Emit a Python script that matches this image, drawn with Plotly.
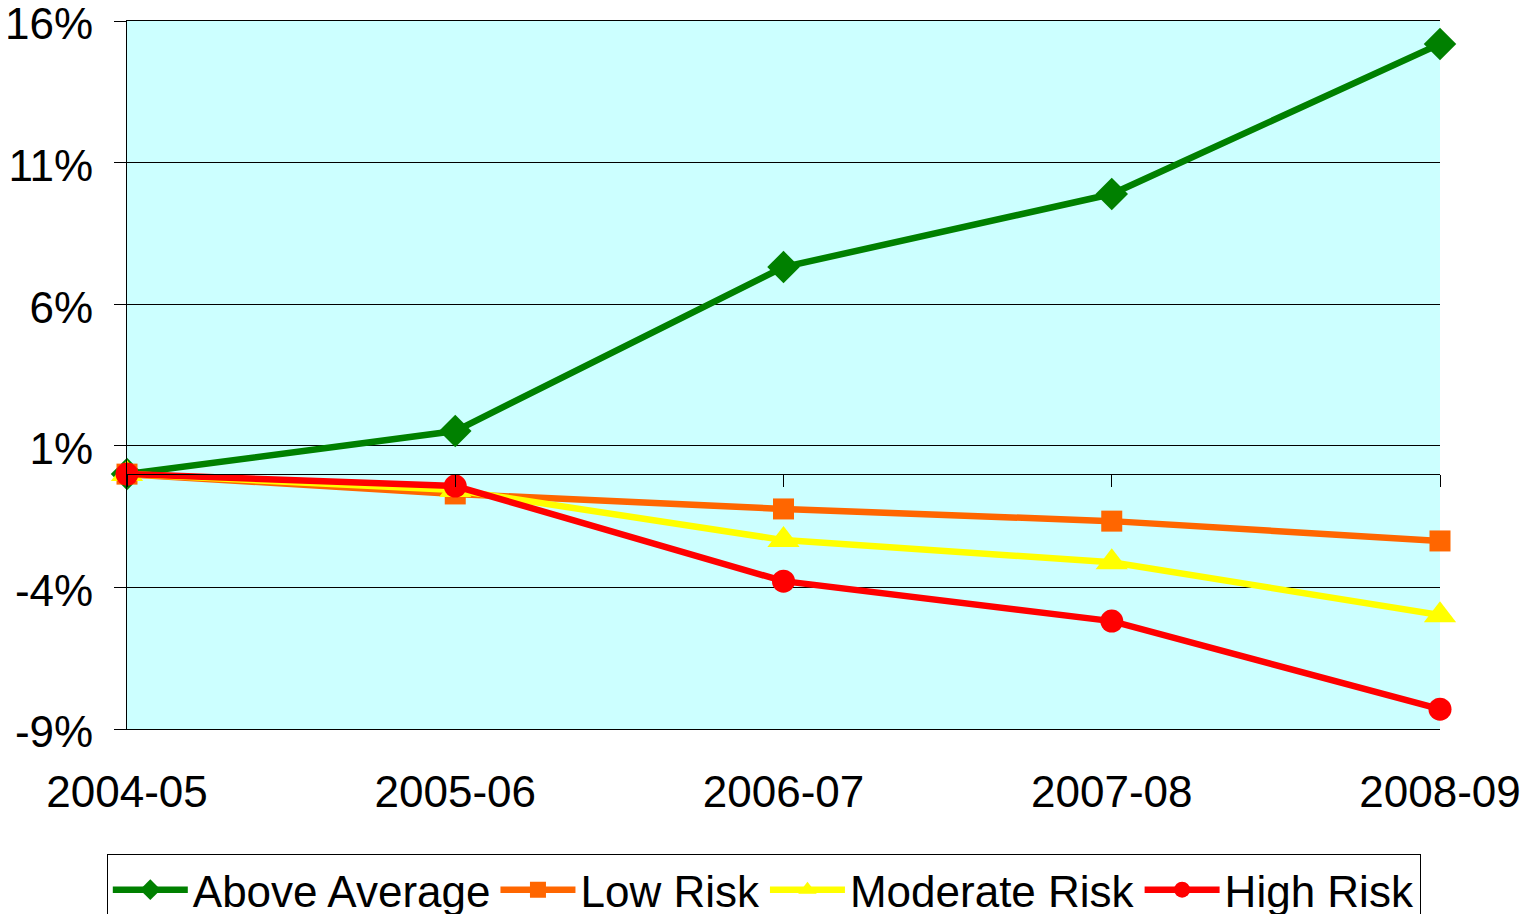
import plotly.graph_objects as go

years = ["2004-05", "2005-06", "2006-07", "2007-08", "2008-09"]
above_average = [0.0, 1.52, 7.31, 9.89, 15.19]
low_risk = [0.0, -0.70, -1.23, -1.66, -2.36]
moderate_risk = [0.0, -0.56, -2.33, -3.11, -4.98]
high_risk = [0.0, -0.42, -3.78, -5.19, -8.30]
y_ticks = [-9, -4, 1, 6, 11, 16]

series = [
    ("Above Average", above_average, "#008000", "diamond", 25),
    ("Low Risk", low_risk, "#FF6600", "square", 21),
    ("Moderate Risk", moderate_risk, "#FFFF00", "triangle-up", 28),
    ("High Risk", high_risk, "#FF0000", "circle", 23),
]

fig = go.Figure()
for name, vals, color, sym, size in series:
    fig.add_trace(go.Scatter(
        x=years, y=vals, name=name, mode="lines+markers",
        line=dict(color=color, width=6.5),
        marker=dict(symbol=sym, size=size, color=color),
        cliponaxis=False,
    ))

# secondary axis to draw the category axis line with ticks at y = 0
fig.add_trace(go.Scatter(x=years, y=[None]*5, xaxis="x2", showlegend=False, hoverinfo="skip"))

font = "Liberation Sans, Arial, sans-serif"
fig.update_layout(
    width=1536, height=940,
    margin=dict(l=119, r=104, t=13, b=219),
    paper_bgcolor="white", plot_bgcolor="#CCFFFF",
    font=dict(family=font, size=44, color="black"),
    showlegend=True,
    legend=dict(orientation="h", x=0.485, xanchor="center", y=-0.176, yanchor="top",
                bordercolor="black", borderwidth=1, font=dict(size=44),
                traceorder="normal", itemsizing="trace", itemwidth=75),
    xaxis=dict(type="category", categoryorder="array", categoryarray=years,
               range=[0, 4], showgrid=False, zeroline=False, automargin=False,
               showline=True, linecolor="black", linewidth=1, mirror=True,
               ticks="", ticklabelstandoff=24, tickfont=dict(size=44)),
    xaxis2=dict(type="category", categoryorder="array", categoryarray=years,
                range=[0, 4], overlaying="x", anchor="free",
                position=(0 - y_ticks[0]) / (y_ticks[-1] - y_ticks[0]),
                side="bottom", showgrid=False, zeroline=False, automargin=False,
                showline=True, linecolor="black", linewidth=1,
                ticks="outside", ticklen=12, tickcolor="black", showticklabels=False),
    yaxis=dict(range=[y_ticks[0], y_ticks[-1]], tickmode="array", tickvals=y_ticks,
               ticktext=[f"{v}%" for v in y_ticks], automargin=False,
               ticklabeloverflow="allow", ticklabelshift=3,
               showgrid=True, gridcolor="black", gridwidth=1, zeroline=False,
               showline=True, linecolor="black", linewidth=1,
               ticks="outside", ticklen=12, tickcolor="black",
               ticklabelstandoff=12, tickfont=dict(size=44)),
)

fig.write_html("out.html")
